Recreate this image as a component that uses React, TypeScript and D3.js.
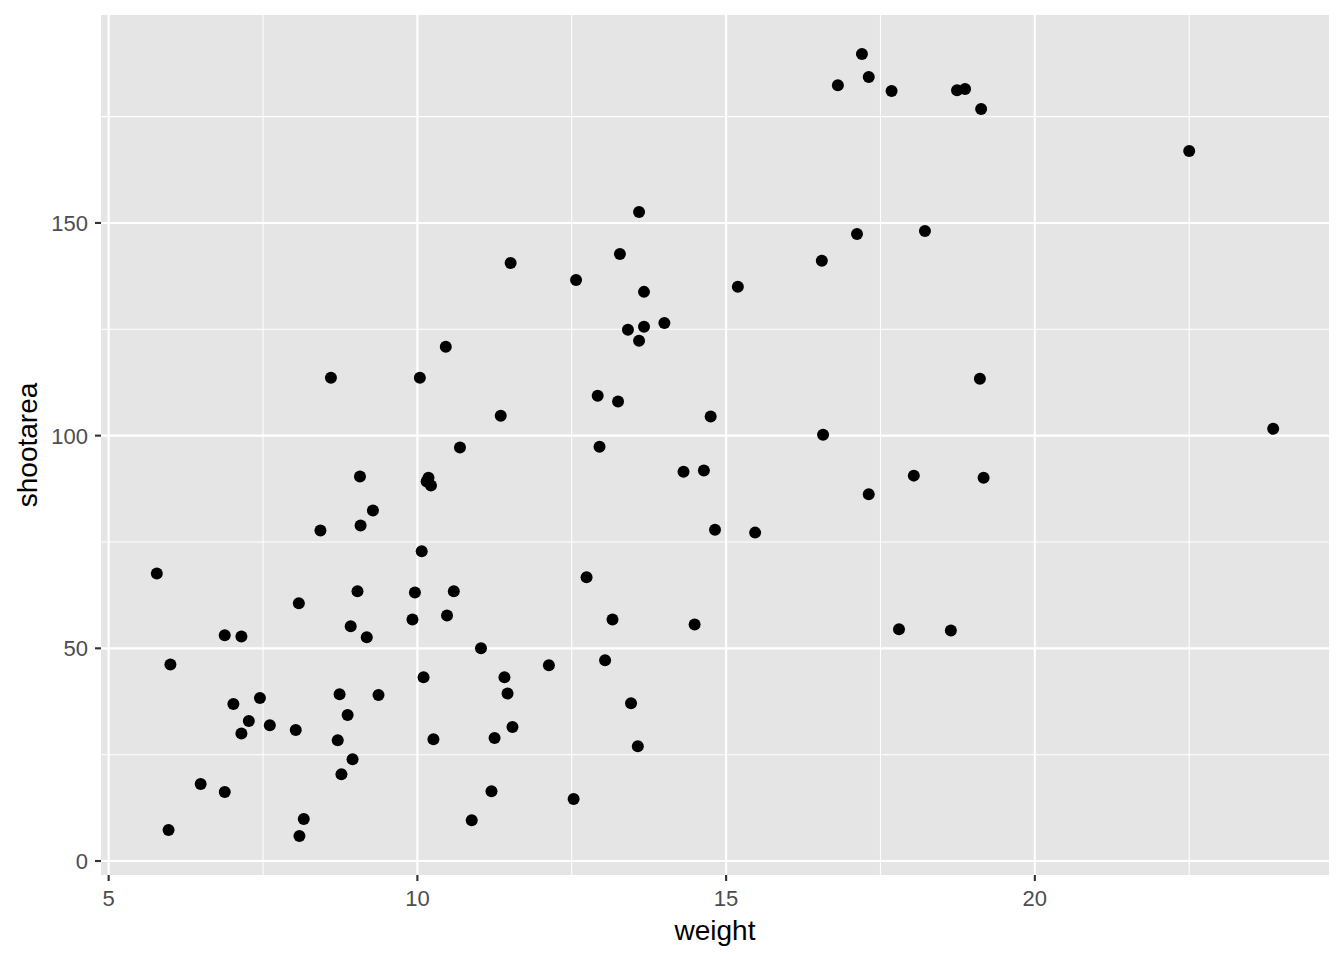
import React, { useEffect, useRef } from 'react';
import * as d3 from 'd3';

const weight = [
  17.2, 16.81, 17.31, 17.68, 18.74, 18.87, 19.13, 22.5, 13.59, 13.28,
  17.12, 18.22, 11.51, 12.57, 16.55, 15.19, 13.67, 14.0, 13.67, 13.41,
  13.59, 10.46, 8.6, 10.04, 19.11, 11.35, 12.92, 13.25, 14.75, 16.57,
  23.86, 12.95, 10.69, 14.31, 14.64, 9.07, 10.18, 10.15, 10.22, 18.04,
  19.17, 17.31, 9.28, 9.08, 8.43, 14.82, 15.47, 10.07, 5.78, 12.74,
  9.03, 9.96, 10.59, 8.08, 10.48, 9.92, 13.16, 14.49, 8.92, 17.8,
  18.64, 6.88, 7.15, 9.18, 11.03, 6.0, 12.13, 13.04, 11.41, 10.1,
  11.46, 8.74, 9.37, 7.45, 7.02, 13.46, 7.27, 7.61, 11.54, 8.03,
  7.15, 8.87, 8.71, 10.26, 11.25, 13.57, 8.95, 8.77, 6.49, 6.88,
  11.2, 12.53, 8.16, 10.88, 5.97, 8.09,
];

const shootarea = [
  189.7, 182.4, 184.3, 181.0, 181.2, 181.5, 176.8, 166.9, 152.6, 142.7,
  147.4, 148.1, 140.6, 136.6, 141.1, 135.0, 133.8, 126.5, 125.6, 124.9,
  122.3, 120.9, 113.6, 113.6, 113.4, 104.7, 109.4, 108.0, 104.5, 100.2,
  101.6, 97.4, 97.2, 91.5, 91.8, 90.4, 90.1, 89.2, 88.3, 90.6,
  90.1, 86.2, 82.4, 78.9, 77.7, 77.9, 77.2, 72.8, 67.6, 66.7,
  63.4, 63.1, 63.4, 60.6, 57.7, 56.8, 56.8, 55.6, 55.2, 54.5,
  54.2, 53.1, 52.8, 52.6, 50.0, 46.2, 46.0, 47.2, 43.2, 43.2,
  39.4, 39.2, 39.0, 38.3, 36.9, 37.1, 32.9, 31.9, 31.5, 30.8,
  30.0, 34.3, 28.4, 28.6, 28.9, 27.0, 23.9, 20.4, 18.1, 16.2,
  16.4, 14.6, 9.9, 9.6, 7.3, 5.9,
];

const xTicks = [5, 10, 15, 20];
const xMinor = [7.5, 12.5, 17.5, 22.5];
const yTicks = [0, 50, 100, 150];
const yMinor = [25, 75, 125, 175];

const W = 1344;
const H = 960;
const FONT = 'Liberation Sans, Arial, Helvetica, sans-serif';

// ggplot-style 5% expansion of the data range
const expand = (ext: [number, number]): [number, number] => {
  const r = ext[1] - ext[0];
  return [ext[0] - r * 0.05, ext[1] + r * 0.05];
};

const App: React.FC = () => {
  const svgRef = useRef<SVGSVGElement>(null);

  useEffect(() => {
    if (!svgRef.current) return;
    const svg = d3.select(svgRef.current);
    svg.selectAll('*').remove();

    const left = 101, right = 1329, top = 15, bottom = 875;

    const x = d3.scaleLinear()
      .domain(expand(d3.extent(weight) as [number, number]))
      .range([left, right]);
    const y = d3.scaleLinear()
      .domain(expand(d3.extent(shootarea) as [number, number]))
      .range([bottom, top]);

    // panel background
    svg.append('rect')
      .attr('x', left).attr('y', top)
      .attr('width', right - left).attr('height', bottom - top)
      .attr('fill', '#E5E5E5');

    // minor grid
    xMinor.forEach(v => {
      svg.append('line')
        .attr('x1', x(v)).attr('x2', x(v)).attr('y1', top).attr('y2', bottom)
        .attr('stroke', '#fff').attr('stroke-width', 1.07);
    });
    yMinor.forEach(v => {
      svg.append('line')
        .attr('y1', y(v)).attr('y2', y(v)).attr('x1', left).attr('x2', right)
        .attr('stroke', '#fff').attr('stroke-width', 1.07);
    });
    // major grid
    xTicks.forEach(v => {
      svg.append('line')
        .attr('x1', x(v)).attr('x2', x(v)).attr('y1', top).attr('y2', bottom)
        .attr('stroke', '#fff').attr('stroke-width', 2.13);
    });
    yTicks.forEach(v => {
      svg.append('line')
        .attr('y1', y(v)).attr('y2', y(v)).attr('x1', left).attr('x2', right)
        .attr('stroke', '#fff').attr('stroke-width', 2.13);
    });

    // points
    svg.append('g')
      .selectAll('circle')
      .data(weight.map((w, i) => [w, shootarea[i]]))
      .join('circle')
      .attr('cx', d => x(d[0]))
      .attr('cy', d => y(d[1]))
      .attr('r', 6)
      .attr('fill', '#000');

    // x axis ticks + labels
    xTicks.forEach(v => {
      svg.append('line')
        .attr('x1', x(v)).attr('x2', x(v)).attr('y1', bottom).attr('y2', bottom + 6)
        .attr('stroke', '#333').attr('stroke-width', 2.13);
      svg.append('text')
        .attr('x', x(v)).attr('y', 906)
        .attr('text-anchor', 'middle')
        .attr('font-family', FONT).attr('font-size', 22)
        .attr('fill', '#4D4D4D')
        .text(v);
    });
    // y axis ticks + labels
    yTicks.forEach(v => {
      svg.append('line')
        .attr('x1', left - 6).attr('x2', left).attr('y1', y(v)).attr('y2', y(v))
        .attr('stroke', '#333').attr('stroke-width', 2.13);
      svg.append('text')
        .attr('x', left - 13).attr('y', y(v))
        .attr('dy', '0.36em')
        .attr('text-anchor', 'end')
        .attr('font-family', FONT).attr('font-size', 22)
        .attr('fill', '#4D4D4D')
        .text(v);
    });

    // axis titles
    svg.append('text')
      .attr('x', (left + right) / 2).attr('y', 940)
      .attr('text-anchor', 'middle')
      .attr('font-family', FONT).attr('font-size', 28)
      .attr('fill', '#000')
      .text('weight');
    svg.append('text')
      .attr('transform', `translate(37, ${(top + bottom) / 2}) rotate(-90)`)
      .attr('text-anchor', 'middle')
      .attr('font-family', FONT).attr('font-size', 28)
      .attr('fill', '#000')
      .text('shootarea');
  }, []);

  return (
    <svg
      ref={svgRef}
      width={W}
      height={H}
      style={{ position: 'absolute', top: 0, left: 0, background: '#fff' }}
    />
  );
};

export default App;
